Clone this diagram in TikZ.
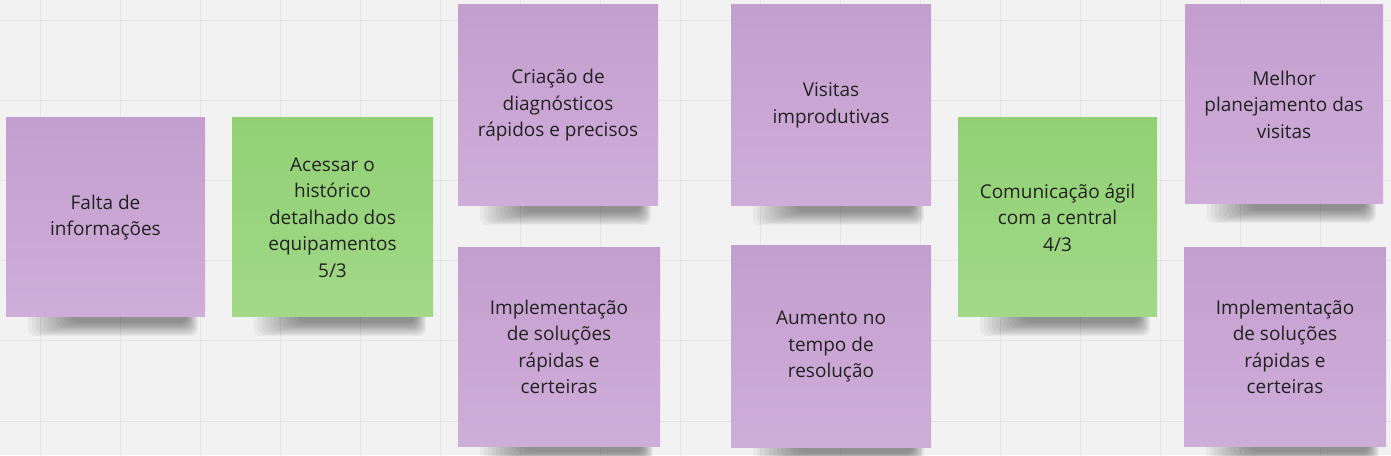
\documentclass[tikz,border=0pt]{standalone}
\usepackage{fontspec}
\setmainfont{Open Sans}
\usetikzlibrary{calc}
\definecolor{bg}{HTML}{F2F2F2}
\definecolor{gridc}{HTML}{E4E4E4}
\definecolor{purpletop}{HTML}{C39FCF}
\definecolor{purplebot}{HTML}{CFADD9}
\definecolor{greentop}{HTML}{91D175}
\definecolor{greenbot}{HTML}{A2D887}
\definecolor{txt}{HTML}{222222}
\tikzset{
  note/.style={rectangle, inner sep=0pt, align=center, text=txt,
    font=\fontsize{19}{26.5}\selectfont},
  purplenote/.style={note, top color=purpletop, bottom color=purplebot},
  greennote/.style={note, top color=greentop, bottom color=greenbot},
  anchorbox/.style={inner sep=0pt},
}
\newcommand{\notesh}[1]{%
  \foreach \i in {0,...,11}{
    \fill[black, opacity=0.04, rounded corners=8pt]
      ($(#1.south west)+(22+4*\i,-19+1.2*\i)$) rectangle ($(#1.south east)+(-7-1*\i,20)$);
  }%
}
\begin{document}
\begin{tikzpicture}[x=1pt,y=1pt]
\fill[bg] (0,0) rectangle (1391,455);
\useasboundingbox (0,0) rectangle (1391,455);
\foreach \k in {0,...,16} \draw[gridc, line width=1pt] (40+80*\k,0) -- (40+80*\k,455);
\foreach \k in {0,...,5} \draw[gridc, line width=1pt] (0,434-80*\k) -- (1391,434-80*\k);

\path
  (105.5,237.5) node[anchorbox, minimum width=199, minimum height=199] (s1) {}
  (332.5,237.5) node[anchorbox, minimum width=201, minimum height=199] (s2) {}
  (558,349.5)   node[anchorbox, minimum width=200, minimum height=201] (s3) {}
  (559,108)     node[anchorbox, minimum width=202, minimum height=198] (s4) {}
  (831,349.5)   node[anchorbox, minimum width=200, minimum height=201] (s5) {}
  (831,108.5)   node[anchorbox, minimum width=200, minimum height=201] (s6) {}
  (1057.5,237.5) node[anchorbox, minimum width=199, minimum height=199] (s7) {}
  (1284,350.5)  node[anchorbox, minimum width=198, minimum height=199] (s8) {}
  (1285,108)    node[anchorbox, minimum width=202, minimum height=198] (s9) {};
\foreach \s in {s1,s2,s3,s4,s5,s6,s7,s8,s9} {\notesh{\s}}

\node[purplenote, minimum width=199, minimum height=199] (n1) at (105.5,237.5) {Falta de\\informações};
\node[greennote, minimum width=201, minimum height=199] (n2) at (332.5,237.5) {Acessar o\\histórico\\detalhado dos\\equipamentos\\5/3};
\node[purplenote, minimum width=200, minimum height=201] (n3) at (558,349.5) {Criação de\\diagnósticos\\rápidos e precisos};
\node[purplenote, minimum width=202, minimum height=198] (n4) at (559,108) {Implementação\\de soluções\\rápidas e\\certeiras};
\node[purplenote, minimum width=200, minimum height=201] (n5) at (831,349.5) {Visitas\\improdutivas};
\node[purplenote, minimum width=200, minimum height=201] (n6) at (831,108.5) {Aumento no\\tempo de\\resolução};
\node[greennote, minimum width=199, minimum height=199] (n7) at (1057.5,237.5) {Comunicação ágil\\com a central\\4/3};
\node[purplenote, minimum width=198, minimum height=199] (n8) at (1284,350.5) {Melhor\\planejamento das\\visitas};
\node[purplenote, minimum width=202, minimum height=198] (n9) at (1285,108) {Implementação\\de soluções\\rápidas e\\certeiras};
\end{tikzpicture}
\end{document}
